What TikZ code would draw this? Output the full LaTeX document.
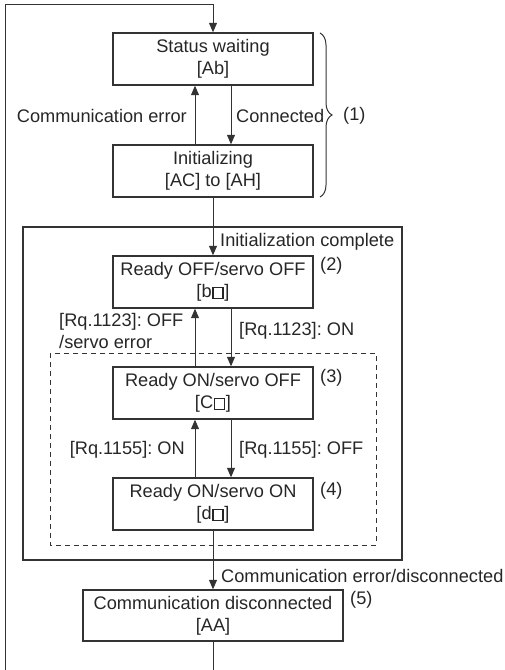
\documentclass[tikz,border=0pt]{standalone}
\usepackage{fontspec}
\setmainfont{Liberation Sans}
\newcommand{\sqbox}{\kern0.8pt{\setlength\fboxrule{1.4pt}\setlength\fboxsep{0pt}\fbox{\rule{0pt}{9.4pt}\rule{8.4pt}{0pt}}}\kern0.8pt}
\usetikzlibrary{arrows.meta,decorations.pathreplacing,calc}
\begin{document}
\frenchspacing
\begin{tikzpicture}[x=1pt,y=-1pt,
  every node/.style={font=\fontsize{18.2}{22}\selectfont, text=black!85},
  statebox/.style={draw=black!80, line width=1.4pt, minimum width=200pt, minimum height=52pt, inner sep=0pt, align=center},
  conn/.style={draw=black!80, line width=1pt, -{Triangle[length=9.5pt,width=8pt]}},
  plain/.style={draw=black!80, line width=1pt},
  lbl/.style={inner sep=0pt}
]
\useasboundingbox (0,0) rectangle (504,670);
% boxes
\node[statebox] (sw) at (213,59) {Status waiting\\{}[Ab]};
\node[statebox] (ini) at (213,171) {Initializing\\{}[AC] to [AH]};
\node[statebox] (roff) at (213,282) {Ready OFF/servo OFF\\{}[b\sqbox]};
\node[statebox] (rons) at (213,393) {Ready ON/servo OFF\\{}[C\sqbox]};
\node[statebox] (ron) at (213,504) {Ready ON/servo ON\\{}[d\sqbox]};
\node[statebox, minimum width=260pt, minimum height=51pt] (cd) at (213,615.5) {Communication disconnected\\{}[AA]};
% frames
\draw[draw=black!80, line width=1.4pt] (23,227) rectangle (402,560);
\draw[draw=black!80, line width=1pt, dash pattern=on 5pt off 4pt] (50,353) rectangle (376,545);
% loop
\coordinate (bl) at (5,670);
\coordinate (tl) at (5,4);
\coordinate (tr) at (213,4);
\coordinate (bb) at (213,670);
\draw[conn] (bl) -- (tl) -- (tr) -- (sw.north);
\draw[plain] (cd.south) -- (bb);
% (1) group
\draw[conn] ($(ini.north)+(-18,0)$) -- ($(sw.south)+(-18,0)$);
\draw[conn] ($(sw.south)+(18,0)$) -- ($(ini.north)+(18,0)$);
\node[lbl, anchor=east] (lce) at (187,116) {Communication error};
\node[lbl, anchor=west] (lcon) at (236,116) {Connected};
\draw[draw=black!80, line width=1pt, decorate, decoration={brace, amplitude=12pt}] (320,33) -- (320,197);
\node[lbl, anchor=west] (n1) at (343,116) {(1)};
% init complete
\draw[conn] (ini.south) -- (roff.north);
\node[lbl, anchor=west] (lic) at (220,242) {Initialization complete};
\node[lbl, anchor=west] (n2) at (320,266) {(2)};
% Rq.1123
\draw[conn] ($(rons.north)+(-18,0)$) -- ($(roff.south)+(-18,0)$);
\draw[conn] ($(roff.south)+(18,0)$) -- ($(rons.north)+(18,0)$);
\node[lbl, anchor=west, align=left] (l1123off) at (59,331) {[Rq.1123]: OFF\\/servo error};
\node[lbl, anchor=west] (l1123on) at (239,331) {[Rq.1123]: ON};
\node[lbl, anchor=west] (n3) at (320,378) {(3)};
% Rq.1155
\draw[conn] ($(ron.north)+(-18,0)$) -- ($(rons.south)+(-18,0)$);
\draw[conn] ($(rons.south)+(18,0)$) -- ($(ron.north)+(18,0)$);
\node[lbl, anchor=east] (l1155on) at (185,450) {[Rq.1155]: ON};
\node[lbl, anchor=west] (l1155off) at (239,450) {[Rq.1155]: OFF};
\node[lbl, anchor=west] (n4) at (320,491) {(4)};
% disconnect
\draw[conn] (ron.south) -- (cd.north);
\node[lbl, anchor=west] (lced) at (221,576) {Communication error/disconnected};
\node[lbl, anchor=west] (n5) at (350,600) {(5)};
\end{tikzpicture}
\end{document}
